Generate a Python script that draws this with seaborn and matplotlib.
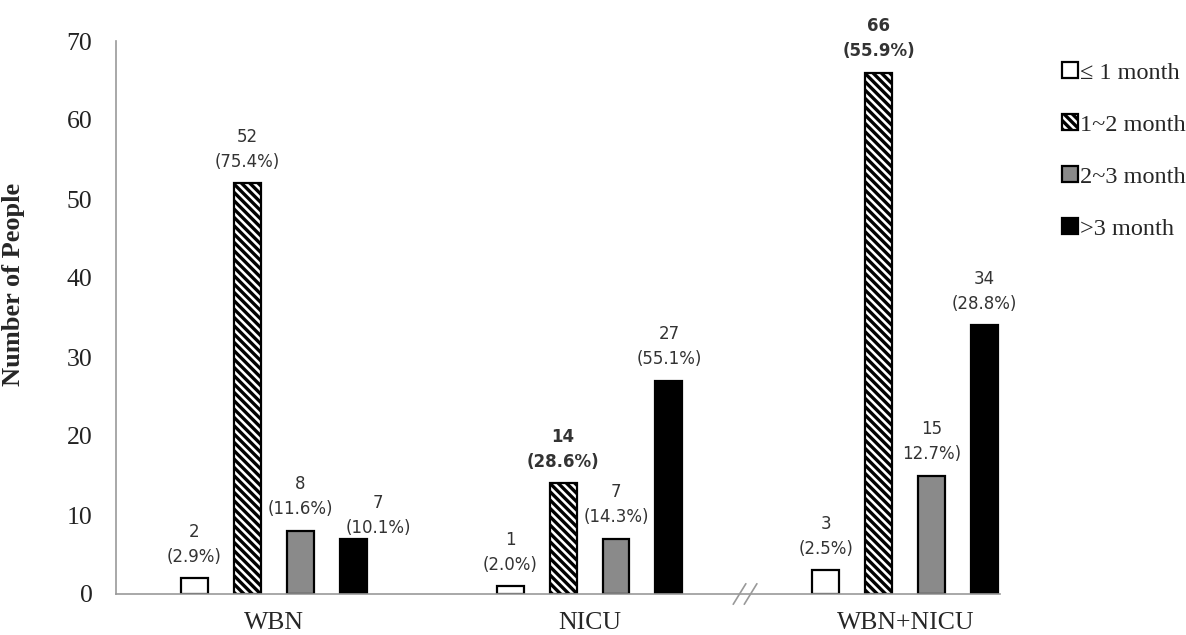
import matplotlib
matplotlib.use("Agg")
import matplotlib.pyplot as plt
import seaborn as sns
import pandas as pd

# data
groups = ["WBN", "NICU", "WBN+NICU"]
durations = ["\u2264 1 month", "1~2 month", "2~3 month", ">3 month"]
wbn = [2, 52, 8, 7]
nicu = [1, 14, 7, 27]
both = [3, 66, 15, 34]
wbn_pct = ["(2.9%)", "(75.4%)", "(11.6%)", "(10.1%)"]
nicu_pct = ["(2.0%)", "(28.6%)", "(14.3%)", "(55.1%)"]
both_pct = ["(2.5%)", "(55.9%)", "12.7%)", "(28.8%)"]
bold_labels = [(1, 1), (2, 1)]  # (group, duration) printed in bold
# labels that were nudged by hand in the original, in points
label_nudge = {(0, 3): (18, -8)}

rows = []
for g, vals in zip(groups, [wbn, nicu, both]):
    for d, v in zip(durations, vals):
        rows.append({"group": g, "dur": d, "n": v})
df = pd.DataFrame(rows)

sns.set_style("white")
plt.rcParams["hatch.linewidth"] = 2.4

fig = plt.figure(figsize=(11.86, 6.35), dpi=100)
ax = fig.add_axes([116 / 1186, 41 / 635, 884 / 1186, 553 / 635])

faces = ["white", "white", "#8a8a8a", "black"]
hatches = ["", "\\\\\\\\", "", ""]

sns.barplot(data=df, x="group", y="n", hue="dur", order=groups, hue_order=durations,
            palette=faces, width=0.67, gap=0.49, edgecolor="black", linewidth=1.6,
            saturation=1, ax=ax, legend=False)

for cont, fc, h in zip(ax.containers, faces, hatches):
    for p in cont.patches:
        p.set_facecolor(fc)
        p.set_hatch(h)
        p.set_edgecolor("black")

# value labels just above each bar
pcts = [wbn_pct, nicu_pct, both_pct]
vals = [wbn, nicu, both]
for hi, cont in enumerate(ax.containers):
    for gi, p in enumerate(cont.patches):
        xc = p.get_x() + p.get_width() / 2
        bold = (gi, hi) in bold_labels
        dx, dy = label_nudge.get((gi, hi), (0, 0))
        ax.annotate(f"{vals[gi][hi]}\n{pcts[gi][hi]}", (xc, p.get_height()),
                    xytext=(dx, 9 + dy), textcoords="offset points", ha="center", va="bottom",
                    fontsize=12, color="#333333", linespacing=1.5,
                    fontweight="bold" if bold else "normal", family="DejaVu Sans",
                    annotation_clip=False)

ax.set_xlim(-0.5, 2.3)
ax.set_ylim(0, 70)
ax.set_yticks(range(0, 71, 10))
ax.set_xticks(range(3))
ax.set_xticklabels(groups, family="Liberation Serif", fontsize=18.5)
ax.set_xticks([0.5], minor=True)
ax.tick_params(axis="x", which="major", length=0, pad=13)
ax.tick_params(axis="x", which="minor", length=6, color="#999999", direction="out")
ax.tick_params(axis="y", length=8, color="#999999", direction="out", pad=9)
for lab in ax.get_yticklabels():
    lab.set_family("Liberation Serif")
    lab.set_fontsize(18.5)
    lab.set_color("#222222")
ax.set_xlabel("")
ax.set_ylabel("Number of People", family="Liberation Serif", fontsize=19, fontweight="bold")
ax.yaxis.set_label_coords(-0.103, 0.56)

for s in ["top", "right"]:
    ax.spines[s].set_visible(False)
for s in ["left", "bottom"]:
    ax.spines[s].set_color("#999999")
    ax.spines[s].set_linewidth(1.2)

# axis break marks
for dx in [-0.035, 0.0]:
    ax.plot([1.49 + dx, 1.53 + dx], [-1.3, 1.3], color="#999999", lw=1.2, clip_on=False)

handles = [c.patches[0] for c in ax.containers]
fig.legend(handles, durations, loc="upper left", bbox_to_anchor=(1040 / 1186, 1 - 40 / 635),
           frameon=False, prop={"family": "Liberation Serif", "size": 17.5},
           handlelength=0.65, handleheight=0.65, handletextpad=0.1, labelspacing=1.25)

fig.savefig("out.png", dpi=100)
